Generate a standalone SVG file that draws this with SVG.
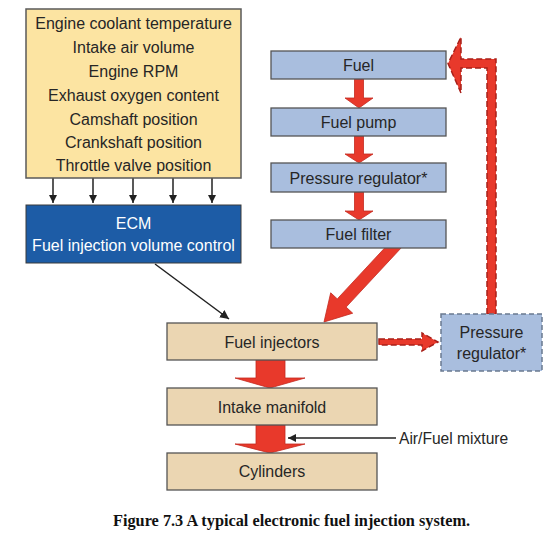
<svg xmlns="http://www.w3.org/2000/svg" width="556" height="534" viewBox="0 0 556 534">
<defs>
<style>
text{font-family:"Liberation Sans",Arial,sans-serif;font-size:16px;fill:#262626;text-anchor:middle}
.yel{fill:#fce4a2;stroke:#5a5a5a;stroke-width:1.5}
.ecm{fill:#1d5ca6;stroke:#3a3a3a;stroke-width:1}
.blue{fill:#a9bede;stroke:#555;stroke-width:1.3}
.tan{fill:#ebd6b2;stroke:#555;stroke-width:1.3}
.dash{fill:#a9bede;stroke:#6a7a90;stroke-width:1.5;stroke-dasharray:5 3}
.red{fill:#e8392b;stroke:#c42a20;stroke-width:0.8}
.redd{fill:#e8392b;stroke:#a8201a;stroke-width:1.5;stroke-dasharray:6 3}
.blk{stroke:#222;stroke-width:1.5;fill:none}
.wt{fill:#fff}
.cap{font-family:"Liberation Serif","Times New Roman",serif;font-weight:bold;font-size:16.3px;fill:#111;text-anchor:start}
</style>
<marker id="ah" viewBox="0 0 10 10" refX="10" refY="5" markerWidth="8" markerHeight="8" markerUnits="userSpaceOnUse" orient="auto">
<path d="M0,0 L10,5 L0,10 Z" fill="#222"/>
</marker>
<marker id="ah2" viewBox="0 0 10 10" refX="10" refY="5" markerWidth="9" markerHeight="9" markerUnits="userSpaceOnUse" orient="auto">
<path d="M0,0 L10,5 L0,10 Z" fill="#222"/>
</marker>
</defs>
<rect width="556" height="534" fill="#fff"/>

<g id="connectors">
<line class="blk" x1="53" y1="178" x2="53" y2="203" marker-end="url(#ah)"/>
<line class="blk" x1="93" y1="178" x2="93" y2="203" marker-end="url(#ah)"/>
<line class="blk" x1="133" y1="178" x2="133" y2="203" marker-end="url(#ah)"/>
<line class="blk" x1="173" y1="178" x2="173" y2="203" marker-end="url(#ah)"/>
<line class="blk" x1="212" y1="178" x2="212" y2="203" marker-end="url(#ah)"/>
<line class="blk" x1="155" y1="264" x2="229" y2="319" marker-end="url(#ah2)"/>
<path class="red" d="M354.5,79 L363.5,79 L363.5,98 L373,98 L359,108 L345,98 L354.5,98 Z"/>
<path class="red" d="M354.5,136 L363.5,136 L363.5,154 L373,154 L359,163 L345,154 L354.5,154 Z"/>
<path class="red" d="M354.5,192 L363.5,192 L363.5,211 L373,211 L359,220 L345,211 L354.5,211 Z"/>
<path class="red" d="M403.3,245.6 L346.1,307.1 L352.7,313.2 L324,322 L330.7,292.8 L337.3,298.9 L394.5,237.4 Z"/>
<path class="red" d="M256,360 L285,360 L285,378 L305,378 L270,388 L235,378 L256,378 Z"/>
<path class="red" d="M256,425 L285,425 L285,444 L305,444 L270,453 L235,444 L256,444 Z"/>
<path class="redd" d="M379,339 L422,339 L422,333 L438,342 L422,351 L422,345 L379,345 Z"/>
<path class="redd" d="M487,314 L487,68 L461,68 L461,93 L448,63.5 L461,37 L461,59 L496,59 L496,314 Z"/>
<line class="blk" x1="396" y1="438" x2="288" y2="438" marker-end="url(#ah)"/>
</g>

<g id="inputs">
<rect class="yel" x="26" y="9" width="215" height="169"/>
<text x="133.5" y="29">Engine coolant temperature</text>
<text x="133.5" y="52.5">Intake air volume</text>
<text x="133.5" y="76.5">Engine RPM</text>
<text x="133.5" y="100.5">Exhaust oxygen content</text>
<text x="133.5" y="124.5">Camshaft position</text>
<text x="133.5" y="148">Crankshaft position</text>
<text x="133.5" y="171">Throttle valve position</text>
</g>
<g id="ecm">
<rect class="ecm" x="26" y="205" width="215" height="58"/>
<text class="wt" x="133.5" y="229">ECM</text>
<text class="wt" x="133.5" y="250.5">Fuel injection volume control</text>
</g>
<g id="fuel">
<rect class="blue" x="271" y="51" width="175" height="28"/>
<text x="358.5" y="71">Fuel</text>
</g>
<g id="fuel-pump">
<rect class="blue" x="271" y="108" width="175" height="28"/>
<text x="358.5" y="128">Fuel pump</text>
</g>
<g id="pressure-regulator-1">
<rect class="blue" x="271" y="163" width="175" height="29"/>
<text x="358.5" y="183.5">Pressure regulator*</text>
</g>
<g id="fuel-filter">
<rect class="blue" x="271" y="220" width="175" height="28"/>
<text x="358.5" y="240">Fuel filter</text>
</g>
<g id="pressure-regulator-2">
<rect class="dash" x="441" y="314" width="101" height="57"/>
<text x="491.5" y="338">Pressure</text>
<text x="491.5" y="359">regulator*</text>
</g>
<g id="fuel-injectors">
<rect class="tan" x="167" y="323" width="210" height="37"/>
<text x="272" y="347.5">Fuel injectors</text>
</g>
<g id="intake-manifold">
<rect class="tan" x="167" y="388" width="210" height="37"/>
<text x="272" y="412.5">Intake manifold</text>
</g>
<g id="cylinders">
<rect class="tan" x="167" y="453" width="210" height="37"/>
<text x="272" y="477">Cylinders</text>
</g>
<text x="399" y="443.5" style="text-anchor:start;font-size:15.6px">Air/Fuel mixture</text>
<text class="cap" x="113" y="526">Figure 7.3 A typical electronic fuel injection system.</text>
</svg>
